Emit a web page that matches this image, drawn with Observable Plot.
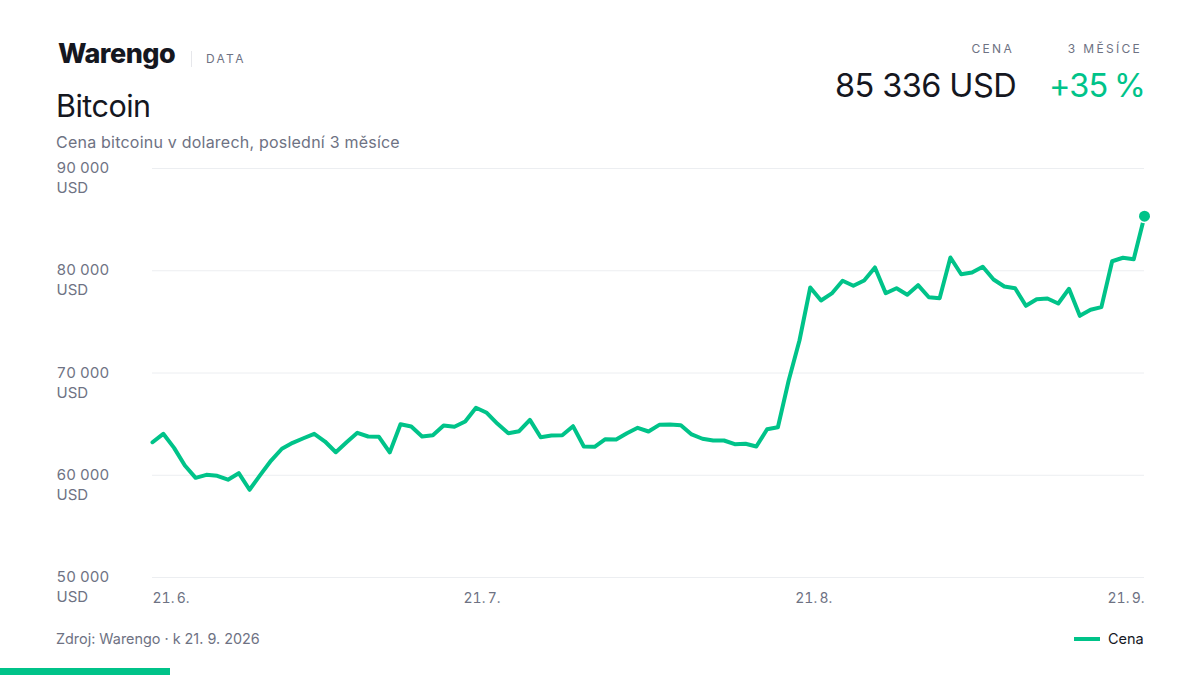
<!DOCTYPE html>
<html lang="cs"><head><meta charset="utf-8">
<script src="https://cdn.jsdelivr.net/npm/d3@7"></script>
<script src="https://cdn.jsdelivr.net/npm/@observablehq/plot@0.6"></script>
<style>
html,body{margin:0;padding:0;background:#fff;width:1200px;height:675px;overflow:hidden;font-family:Inter,sans-serif}
.t{position:absolute;white-space:nowrap;line-height:1}
#chart{position:absolute;left:0;top:0}
.xt text{word-spacing:-1.5px}
</style></head><body>
<div id="chart"></div>
<div class="t" style="left:58px;top:40px;font-size:27px;font-weight:800;color:#15171f;letter-spacing:-.5px">Warengo</div>
<div style="position:absolute;left:191px;top:51px;width:1px;height:16px;background:#e6e7eb"></div>
<div class="t" style="left:206px;top:53px;font-size:12px;letter-spacing:2.3px;color:#6e7283">DATA</div>
<div class="t" style="left:56px;top:91px;font-size:30.5px;letter-spacing:-.5px;color:#15171f">Bitcoin</div>
<div class="t" style="left:56px;top:134px;font-size:16px;letter-spacing:.22px;color:#6e7283">Cena bitcoinu v dolarech, poslední 3 měsíce</div>
<div class="t" style="right:186px;top:43px;font-size:12px;letter-spacing:2.3px;color:#6e7283">CENA</div>
<div class="t" style="right:58px;top:43px;font-size:12px;letter-spacing:2.3px;color:#6e7283">3 MĚSÍCE</div>
<div class="t" style="right:184px;top:70px;font-size:32.5px;letter-spacing:-.6px;color:#15171f">85 336 USD</div>
<div class="t" style="right:55px;top:70px;font-size:32.5px;letter-spacing:-.8px;word-spacing:-2px;color:#00c389">+35 %</div>
<div class="t" style="left:56px;top:632px;font-size:14.4px;color:#6e7283">Zdroj: Warengo · k 21. 9. 2026</div>
<div style="position:absolute;left:1074px;top:637px;width:26px;height:4px;background:#00c389"></div>
<div class="t" style="left:1108px;top:632px;font-size:14.5px;color:#15171f">Cena</div>
<div style="position:absolute;left:0;top:668px;width:170px;height:7px;background:#00c389"></div>
<script>
const startDate = "2026-06-21";
const prices = [63230,64050,62680,60950,59750,60040,59950,59560,60200,58580,
60040,61440,62590,63170,63620,64050,63300,62250,63230,64150,
63790,63760,62230,64990,64770,63790,63920,64870,64740,65260,
66600,66110,65030,64110,64310,65420,63720,63890,63920,64800,
62810,62780,63530,63500,64110,64640,64280,64930,64960,64900,
63990,63570,63400,63400,63040,63080,62810,64500,64700,69270,
73180,78360,77090,77780,79020,78530,79050,80320,77800,78290,
77650,78590,77410,77320,81300,79660,79830,80390,79140,78460,
78290,76570,77220,77290,76800,78240,75590,76180,76440,80930,
81270,81130,85336];
const yTicks = [50000,60000,70000,80000,90000];
const xTicks = [["2026-06-21","21. 6."],["2026-07-21","21. 7."],["2026-08-21","21. 8."],["2026-09-21","21. 9."]];
const GREEN="#00c389", GRAY="#6e7283", GRID="#eceef1";
const start=new Date(startDate);
const rows=prices.map((p,i)=>({date:d3.utcDay.offset(start,i),price:p}));
const last=rows[rows.length-1];
const fmtY=v=>d3.format(",")(v).replace(/,/g," ")+"\nUSD";
const xAxisLabel=(i,anchor,dx)=>Plot.axisX([new Date(xTicks[i][0])],{
  tickSize:0,tickPadding:16,label:null,tickFormat:()=>xTicks[i][1],className:"xt",
  textAnchor:anchor,dx,fontSize:14,fill:GRAY});
const plot=Plot.plot({
  width:1200,height:675,marginLeft:152,marginRight:56,marginTop:168,marginBottom:98,
  style:{fontFamily:"Inter, sans-serif",background:"transparent"},
  x:{type:"utc",domain:[start,last.date]},
  y:{domain:[50000,90000]},
  marks:[
    Plot.ruleY(yTicks,{stroke:GRID,strokeWidth:1}),
    Plot.axisY(yTicks,{tickSize:0,tickPadding:96,textAnchor:"start",lineAnchor:"top",dy:-9.5,
      tickFormat:fmtY,label:null,fontSize:15,lineHeight:1.33,fill:GRAY}),
    xAxisLabel(0,"start",0),xAxisLabel(1,"middle",6),xAxisLabel(2,"middle",3.5),xAxisLabel(3,"end",0),
    Plot.lineY(rows,{x:"date",y:"price",stroke:GREEN,strokeWidth:4,strokeLinejoin:"round",curve:"linear"}),
    Plot.dot([last],{x:"date",y:"price",r:5.5,fill:GREEN,stroke:"#fff",strokeWidth:3,paintOrder:"stroke"})
  ]
});
document.getElementById("chart").appendChild(plot);
</script>
</body></html>
